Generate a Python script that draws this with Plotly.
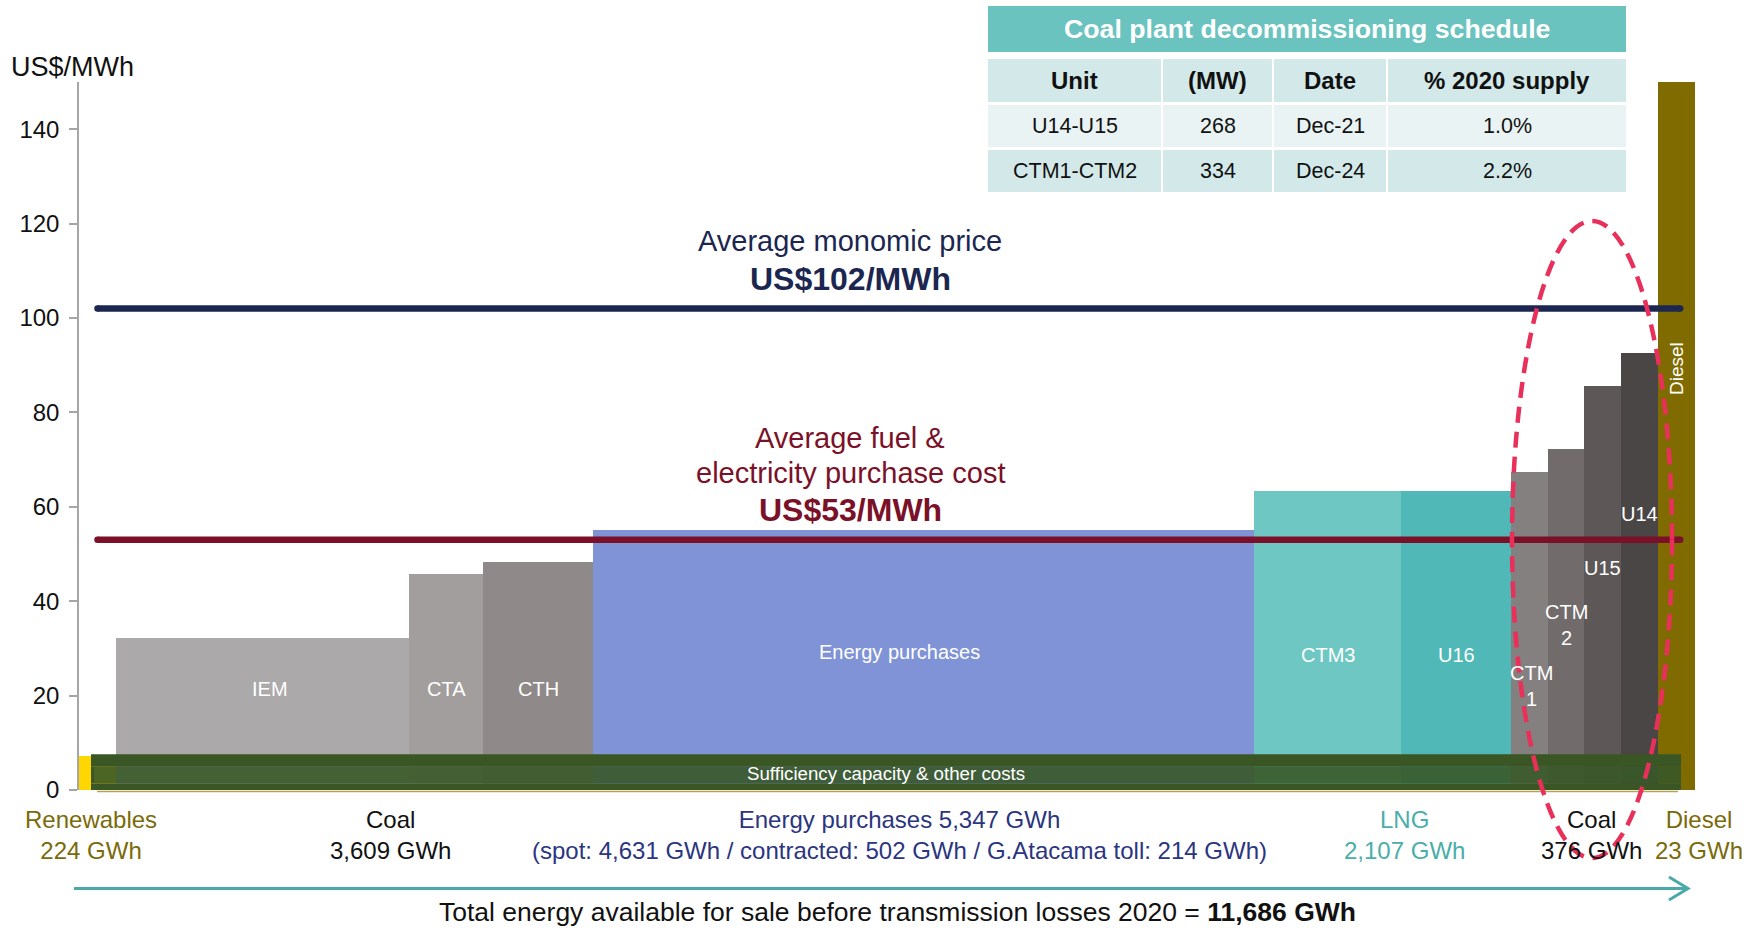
import plotly.graph_objects as go

# ---- data -----------------------------------------------------------------
# Supply blocks in merit order (left to right)
block_names = ["Renewables", "IEM", "CTA", "CTH", "Energy purchases", "CTM3", "U16",
               "CTM1", "CTM2", "U15", "U14", "Diesel"]
block_costs = [7.2, 32.1, 45.8, 48.4, 55.1, 63.3, 63.4, 67.3, 72.3, 85.7, 92.5, 150.0]
# drawn width of each block (schematic, not proportional to GWh)
block_widths = [37, 293, 74, 110, 661, 147, 110, 37, 36, 37, 37, 37]

monomic_price = 102
fuel_purchase_cost = 53
sufficiency_cost = 7.6

group_names = ["Renewables", "Coal", "Energy purchases", "LNG", "Coal", "Diesel"]
group_gwh = [224, 3609, 5347, 2107, 376, 23]
purchase_split_names = ["spot", "contracted", "G.Atacama toll"]
purchase_split_gwh = [4631, 502, 214]
total_gwh = 11686

table_units = ["U14-U15", "CTM1-CTM2"]
table_mw = [268, 334]
table_dates = ["Dec-21", "Dec-24"]
table_share = [1.0, 2.2]

# ---- styling ----------------------------------------------------------------
FONT = "Liberation Sans, Arial, sans-serif"
block_colors = ["#FFD700", "#ABA9AA", "#A29E9D", "#8F8A89", "#7F93D6", "#6FC7C3",
                "#50B8B6", "#858080", "#716B6B", "#5D5857", "#4B4646", "#7F6B00"]
block_labels = ["", "IEM", "CTA", "CTH", "Energy purchases", "CTM3", "U16",
                "CTM<br>1", "CTM<br>2", "U15", "U14", "Diesel"]
label_y = [None, 21.5, 21.5, 21.5, 29.3, 28.5, 28.5, 22, 35, 47, 58.4, 89.3]
# horizontal nudge of each in-block label from the block centre (axis units)
label_dx = [0, 7.5, 0, 0, -24.5, 0, 0, 1.5, 0, 0, 0, 0]
group_colors = ["#7A6A0A", "#111111", "#2B3580", "#4AAEAA", "#111111", "#7A6A0A"]
group_px = [90.5, 390, 899, 1404, 1591, 1699]

NAVY = "#1B2750"
MAROON = "#7B1128"
TEAL = "#4BAAA8"

FIG_W, FIG_H = 1752, 929
L, R, T, B = 79, 1695, 82, 790


def fx(px):
    return (px - L) / (R - L)


def fy(py):
    return (B - py) / (B - T)


# block edges and centres along the x axis
edges = [0]
for w in block_widths:
    edges.append(edges[-1] + w)
centers = [(a + b) / 2 for a, b in zip(edges[:-1], edges[1:])]
x_total = edges[-1]

fig = go.Figure()

fig.add_trace(go.Bar(
    x=centers, y=block_costs, width=block_widths,
    marker=dict(color=block_colors, line=dict(width=0)),
    hoverinfo="skip", showlegend=False,
))

# average price lines
line_x0 = block_widths[0] / 2
line_x1 = edges[-2] + 0.6 * block_widths[-1]
for val, col in [(monomic_price, NAVY), (fuel_purchase_cost, MAROON)]:
    fig.add_trace(go.Scatter(
        x=[line_x0, line_x1], y=[val, val], mode="lines+markers",
        line=dict(color=col, width=6.5), marker=dict(color=col, size=6.5),
        hoverinfo="skip", showlegend=False,
    ))

shapes = []
# sufficiency capacity band across the bottom
band_x0, band_x1 = 12, edges[-2] + 23
shapes += [
    dict(type="rect", xref="x", yref="y", x0=band_x0, x1=band_x1, y0=4.9, y1=sufficiency_cost,
         fillcolor="#3A5624", line=dict(width=0)),
    dict(type="rect", xref="x", yref="y", x0=band_x0, x1=band_x1, y0=0, y1=1.4,
         fillcolor="#3A5624", line=dict(width=0)),
    dict(type="rect", xref="x", yref="y", x0=band_x0, x1=band_x0 + 3, y0=1.4, y1=4.9,
         fillcolor="#3A5624", line=dict(width=0)),
    dict(type="rect", xref="x", yref="y", x0=band_x0 + 3, x1=band_x1, y0=1.4, y1=4.9,
         fillcolor="rgba(56,88,40,0.9)", line=dict(width=0)),
    dict(type="line", xref="paper", yref="paper", x0=fx(97), x1=fx(1678), y0=fy(791.5), y1=fy(791.5),
         line=dict(color="#B5A552", width=1.5)),
]

# total-energy arrow
shapes.append(dict(type="line", xref="paper", yref="paper", x0=fx(74), x1=fx(1688),
                   y0=fy(888.5), y1=fy(888.5), line=dict(color=TEAL, width=3)))
shapes.append(dict(type="path", xref="paper", yref="paper",
                   path=f"M {fx(1669)} {fy(877)} L {fx(1688)} {fy(888.5)} L {fx(1669)} {fy(900)}",
                   line=dict(color=TEAL, width=3)))

# decommissioning table
col_px = [(988, 1161), (1163, 1272), (1274, 1386), (1388, 1626)]
row_px = [(59, 102), (105, 147), (150, 192)]
row_fill = ["#D3E9E9", "#E9F3F3", "#D3E9E9"]
shapes.append(dict(type="rect", xref="paper", yref="paper", x0=fx(988), x1=fx(1626),
                   y0=fy(52), y1=fy(6), fillcolor="#6AC3BF", line=dict(width=0)))
for (r0, r1), fc in zip(row_px, row_fill):
    for c0, c1 in col_px:
        shapes.append(dict(type="rect", xref="paper", yref="paper", x0=fx(c0), x1=fx(c1),
                           y0=fy(r1), y1=fy(r0), fillcolor=fc, line=dict(width=0)))

# highlight around the coal units being retired
shapes.append(dict(type="circle", xref="paper", yref="paper",
                   x0=fx(1512), x1=fx(1672), y0=fy(858), y1=fy(221),
                   line=dict(color="#E8305A", width=4.5, dash="16px,9px")))

ann = []


def text(x, y, s, size, color, bold=False, **kw):
    ann.append(dict(x=x, y=y, xref=kw.pop("xref", "paper"), yref=kw.pop("yref", "paper"),
                    text=f"<b>{s}</b>" if bold else s, showarrow=False,
                    font=dict(family=FONT, size=size, color=color),
                    xanchor="center", yanchor="middle", **kw))


text(fx(72), fy(67), "US$/MWh", 27, "#111111")

text(fx(850), fy(241), "Average monomic price", 29, NAVY)
text(fx(850), fy(279), f"US${monomic_price}/MWh", 32, NAVY, bold=True)
text(fx(850), fy(437.5), "Average fuel &", 29, MAROON)
text(fx(850), fy(473), "electricity purchase cost", 29, MAROON)
text(fx(850), fy(510), f"US${fuel_purchase_cost}/MWh", 32, MAROON, bold=True)

for cx, dx, lbl, ly in zip(centers, label_dx, block_labels, label_y):
    if not lbl:
        continue
    if lbl == "Diesel":
        text(cx + dx, ly, lbl, 19, "white", xref="x", yref="y", textangle=-90)
    else:
        text(cx + dx, ly, lbl, 20, "white", xref="x", yref="y")

text((band_x0 + band_x1) / 2, 3.4, "Sufficiency capacity &amp; other costs", 18.7, "white",
     xref="x", yref="y")

for name, gwh, col, px in zip(group_names, group_gwh, group_colors, group_px):
    if name == "Energy purchases":
        split = " / ".join(f"{n}: {v:,} GWh" for n, v in zip(purchase_split_names, purchase_split_gwh))
        s = f"{name} {gwh:,} GWh<br>({split})"
    else:
        s = f"{name}<br>{gwh:,} GWh"
    text(fx(px), fy(834.5), s, 24, col)

text(fx(898), fy(912),
     f"Total energy available for sale before transmission losses 2020 = <b>{total_gwh:,} GWh</b>",
     26.5, "#111111")

# table text
text(fx(1307), fy(29), "Coal plant decommissioning schedule", 26.7, "white", bold=True)
headers = ["Unit", "(MW)", "Date", "% 2020 supply"]
col_cx = [(a + b) / 2 for a, b in col_px]
for h, cx in zip(headers, col_cx):
    text(fx(cx), fy(80.5), h, 24, "#111111", bold=True)
for (r0, r1), unit, mw, date, share in zip(row_px[1:], table_units, table_mw, table_dates, table_share):
    cy = (r0 + r1) / 2
    for v, cx in zip([unit, str(mw), date, f"{share:.1f}%"], col_cx):
        text(fx(cx), fy(cy), v, 21.5, "#111111")

fig.update_layout(
    width=FIG_W, height=FIG_H,
    margin=dict(l=L, r=FIG_W - R, t=T, b=FIG_H - B, pad=0),
    paper_bgcolor="white", plot_bgcolor="white",
    shapes=shapes, annotations=ann,
    font=dict(family=FONT, color="#111111"),
    xaxis=dict(range=[0, x_total], showgrid=False, zeroline=False, showticklabels=False,
               showline=False, ticks=""),
    yaxis=dict(range=[0, 150], tickvals=list(range(0, 141, 20)), showgrid=False, zeroline=False,
               showline=True, linecolor="#A6A6A6", linewidth=1.5, ticks="outside",
               ticklen=8, tickcolor="#A6A6A6", tickwidth=1.5,
               tickfont=dict(family=FONT, size=24, color="#111111"), ticklabelstandoff=5),
    bargap=0,
)

fig.write_html("out.html")
